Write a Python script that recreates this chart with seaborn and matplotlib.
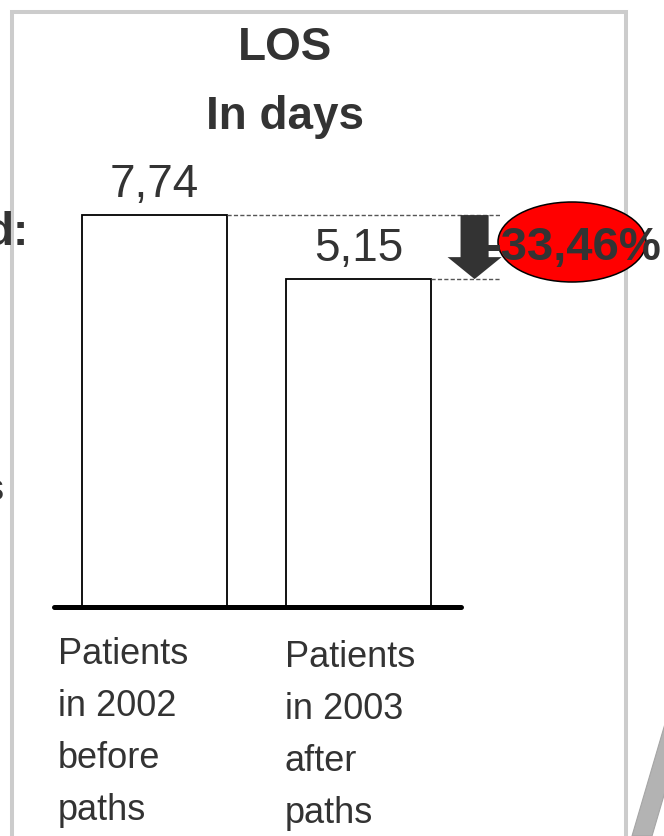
import matplotlib
matplotlib.use("Agg")
import matplotlib.pyplot as plt
from matplotlib.patches import Ellipse, Rectangle, Polygon
import seaborn as sns

# data
periods = ["2002", "2003"]
los_days = [7.74, 5.15]
group_labels = ["Patients\nin 2002\nbefore\npaths", "Patients\nin 2003\nafter\npaths"]
title_lines = ["LOS", "In days"]

W, H = 664, 836
ink = "#333333"


def fx(x):
    return x / W


def fy(y):
    return 1 - y / H


sns.set_style("white")
plt.rcParams["font.family"] = ["Liberation Sans", "DejaVu Sans"]

fig = plt.figure(figsize=(W / 100, H / 100), dpi=100)
fig.patch.set_facecolor("white")

# gray slide frame + cropped diagonal shape
fig.add_artist(Rectangle((fx(11.5), fy(900)), (625.5 - 11.5) / W, (900 - 11.5) / H,
                         transform=fig.transFigure, fill=False, edgecolor="#cccccc",
                         lw=2.9, zorder=0.5, clip_on=False))
fig.add_artist(Polygon([(fx(632), fy(836)), (fx(672), fy(700)), (fx(692), fy(700)), (fx(652), fy(836))],
                       closed=True, transform=fig.transFigure, facecolor="#b3b3b3",
                       edgecolor="#a5a5a5", lw=0.8, zorder=0.5))

# bars (log scale keeps the slide's visual proportions)
ax = fig.add_axes([fx(54.5), fy(606.7), (460.5 - 54.5) / W, (606.7 - 100) / H])
ax.patch.set_alpha(0)
bar_w = 0.71
sns.barplot(x=periods, y=los_days, color="white", edgecolor="black", linewidth=1.3,
            width=bar_w, errorbar=None, ax=ax)
ax.set_yscale("log")
ax.set_ylim(0.64, 16.1)
ax.set_xlim(-0.49, 1.5)
ax.set_xlabel("")
ax.set_ylabel("")
ax.tick_params(which="both", left=False, bottom=False, labelleft=False, labelbottom=False)
for s in ["top", "right", "left"]:
    ax.spines[s].set_visible(False)
ax.spines["bottom"].set_linewidth(3.6)
ax.spines["bottom"].set_color("black")
ax.spines["bottom"].set_capstyle("round")

# dashed guide lines from bar tops
x_end = 1.70
ax.hlines(los_days, [i + bar_w / 2 for i in range(len(los_days))], x_end,
          colors="#555555", linewidth=1.0, linestyles=(0, (3.0, 1.6)), clip_on=False)

# value labels
for i, v in enumerate(los_days):
    ax.annotate(f"{v:.2f}".replace(".", ","), xy=(i, v), xytext=(0, 13.3),
                textcoords="offset points", ha="center", va="baseline",
                fontsize=33, color=ink)

# down arrow between the two levels
x_arrow = 1.569
ax.annotate("", xy=(x_arrow, los_days[1]), xytext=(x_arrow, los_days[0]),
            arrowprops=dict(arrowstyle="simple,head_length=1.58,head_width=3.89,tail_width=2.02",
                            mutation_scale=10, color=ink, lw=0, shrinkA=0, shrinkB=0),
            annotation_clip=False)

# change in percent, on a red ellipse
change = (los_days[1] - los_days[0]) / los_days[0] * 100
pct = f"{change:.2f}%".replace(".", ",")
fig.add_artist(Ellipse((fx(572), fy(242)), 148 / W, 80 / H, transform=fig.transFigure,
                       facecolor="#ff0000", edgecolor="black", lw=1.1, zorder=2))
fig.text(fx(485), fy(260), pct, fontsize=34, fontweight="bold", color=ink,
         ha="left", va="baseline", zorder=3)

# title
fig.text(fx(285), fy(60), title_lines[0], fontsize=33, fontweight="bold", color=ink,
         ha="center", va="baseline")
fig.text(fx(285), fy(129), title_lines[1], fontsize=33, fontweight="bold", color=ink,
         ha="center", va="baseline")

# group labels under the bars
label_x = [58, 285]
label_y = [664, 667]
for lab, x0, y0 in zip(group_labels, label_x, label_y):
    for k, line in enumerate(lab.split("\n")):
        fig.text(fx(x0), fy(y0 + 52 * k), line, fontsize=26, color=ink,
                 ha="left", va="baseline")

# text cut off at the left edge of the slide (as in the source)
fig.text(fx(28), fy(245), "d:", fontsize=33, fontweight="bold", color=ink, ha="right", va="baseline")
fig.text(fx(4), fy(500), "s", fontsize=26, color=ink, ha="right", va="baseline")

fig.savefig("out.png", dpi=100)
